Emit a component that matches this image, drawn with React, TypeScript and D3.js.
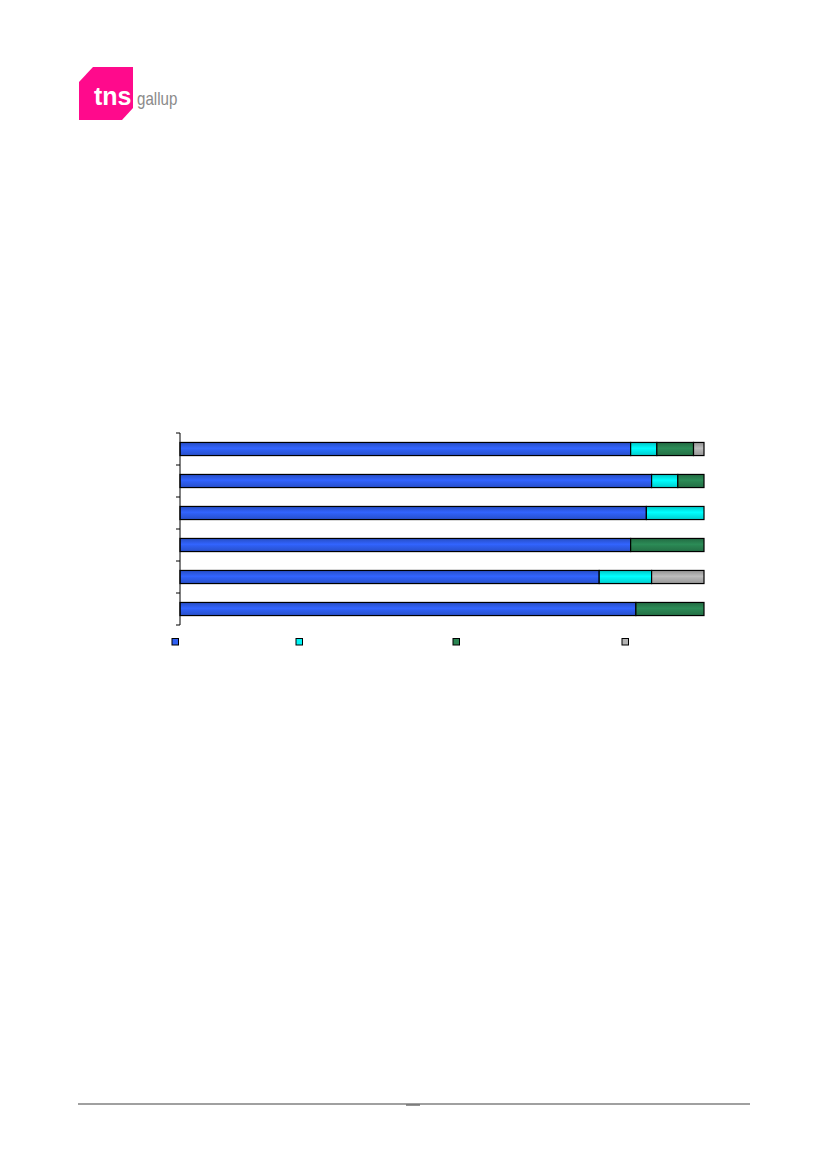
import React from "react";
import * as d3 from "d3";

const categories = ["A", "B", "C", "D", "E", "F"];
const seriesNames = ["s1", "s2", "s3", "s4"];
const s1 = [86, 90, 89, 86, 80, 87];
const s2 = [5, 5, 11, 0, 10, 0];
const s3 = [7, 5, 0, 14, 0, 13];
const s4 = [2, 0, 0, 0, 10, 0];
const colors = ["#2f5ff2", "#00f5f5", "#2a8552", "#b4b4b4"];
const legendX = [172, 296, 453, 622];

export default function App() {
  const rows = categories.map((c, i) => ({ cat: c, s1: s1[i], s2: s2[i], s3: s3[i], s4: s4[i] }));
  const stack = d3.stack<any>().keys(seriesNames)(rows);
  const x = d3.scaleLinear().domain([0, 100]).range([180, 704]);
  const y = d3.scaleBand().domain(categories).range([433, 625]).paddingInner(0.59).paddingOuter(0.295);
  const step = y.step();
  const tickYs = d3.range(categories.length + 1).map((i) => 433 + i * step);

  return (
    <svg width={826} height={1169} style={{ position: "absolute", left: 0, top: 0 }} xmlns="http://www.w3.org/2000/svg">
      <defs>
        {colors.map((c, i) => (
          <linearGradient key={i} id={`g${i}`} x1="0" y1="0" x2="0" y2="1">
            <stop offset="0" stopColor={d3.color(c)!.darker(0.6).toString()} />
            <stop offset="0.45" stopColor={d3.color(c)!.brighter(0.15).toString()} />
            <stop offset="0.55" stopColor={c} />
            <stop offset="1" stopColor={d3.color(c)!.darker(0.5).toString()} />
          </linearGradient>
        ))}
      </defs>
      <rect width={826} height={1169} fill="#fff" />
      {/* logo */}
      <path d="M93,67 L133,67 L133,108 L122,120 L79,120 L79,82 Z" fill="#ff0a8c" />
      <text x={94} y={105} fill="#fff" fontFamily="Liberation Sans, Arial, sans-serif" fontWeight="bold" fontSize={25}>tns</text>
      <text transform="translate(137,105) scale(0.84,1)" fill="#8a8a8a" fontFamily="Liberation Sans, sans-serif" fontSize={18}>gallup</text>

      {/* bars */}
      {stack.map((layer, si) => (
        <g key={si}>
          {layer.map((d, i) =>
            d[1] - d[0] > 0 ? (
              <rect
                key={i}
                x={x(d[0])}
                y={y(categories[i])!}
                width={x(d[1]) - x(d[0])}
                height={y.bandwidth()}
                fill={`url(#g${si})`}
                stroke="#000"
                strokeWidth={1.2}
              />
            ) : null
          )}
        </g>
      ))}

      {/* axis */}
      <line x1={180} x2={180} y1={433} y2={625} stroke="#000" strokeWidth={1} />
      {tickYs.map((t, i) => (
        <line key={i} x1={176} x2={180} y1={t} y2={t} stroke="#000" strokeWidth={1} />
      ))}

      {/* legend */}
      {colors.map((c, i) => (
        <rect key={i} x={legendX[i]} y={638.5} width={6.5} height={6.5} fill={c} stroke="#000" strokeWidth={1} />
      ))}

      {/* footer */}
      <line x1={78} x2={750} y1={1104} y2={1104} stroke="#a0a0a0" strokeWidth={2} />
      <line x1={406} x2={420} y1={1105} y2={1105} stroke="#707070" strokeWidth={1.5} />
    </svg>
  );
}
